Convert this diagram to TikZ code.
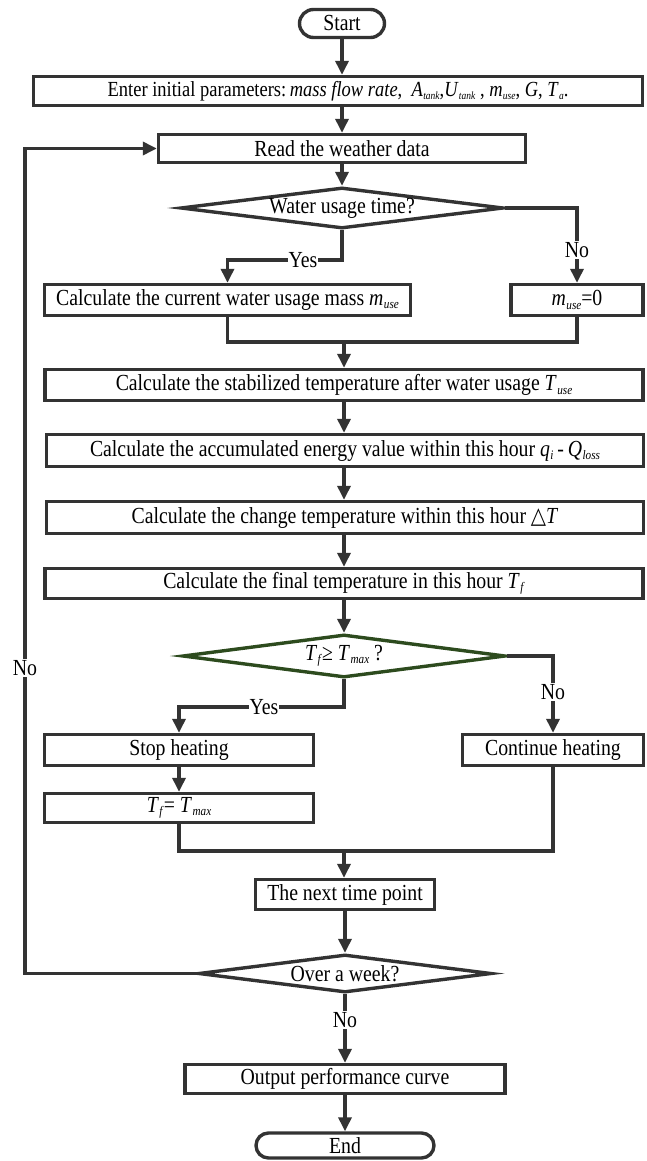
\documentclass[tikz,border=0pt]{standalone}
\usepackage{fontspec}
\setmainfont{Liberation Serif}[FakeStretch=0.86]
\newfontfamily\symfont{DejaVu Sans}[FakeStretch=0.86]
\usetikzlibrary{arrows.meta,shapes.geometric,shapes.misc}
\definecolor{ln}{HTML}{333333}
\definecolor{dgreen}{RGB}{45,75,30}
\newcommand{\vsub}[2]{\textit{#1}\kern0.5pt\raisebox{-3.5pt}{\fontsize{13}{14}\selectfont\textit{#2}}}
\newcommand{\vsubs}[2]{\textit{#1}\kern0.3pt\raisebox{-3pt}{\fontsize{11}{12}\selectfont\textit{#2}}}
\begin{document}
\begin{tikzpicture}[x=1pt,y=-1pt,
  every node/.style={font=\fontsize{23}{26}\selectfont, text=black},
  box/.style={draw=ln, line width=3.4pt, rectangle, inner sep=0pt},
  term/.style={draw=ln, line width=3.4pt, rounded rectangle, inner sep=0pt},
  dia/.style={draw=ln, line width=3.4pt, diamond, inner sep=0pt},
  line/.style={draw=ln, line width=3.4pt},
  arr/.style={line, -{Triangle[length=14pt,width=13pt]}},
  lbl/.style={fill=white, inner sep=1pt}
]
\useasboundingbox (0,0) rectangle (646,1161);
\coordinate (col) at (344,0);
\coordinate (lp) at (25,0);
% nodes
\node[term, minimum width=85pt, minimum height=28pt] (start) at (342,23.5) {Start};
\node[box, minimum width=609pt, minimum height=29pt, font=\fontsize{21.5}{24}\selectfont] (enter) at (338,91)
  {Enter initial parameters:\,\textit{mass flow rate},\ \ \vsubs{A}{tank},\vsubs{U}{tank} , \vsubs{m}{use}, \textit{G}, \vsubs{T}{a}.};
\node[box, minimum width=367pt, minimum height=28pt] (read) at (342,148.5) {Read the weather data};
\node[dia, minimum width=323pt, minimum height=41pt] (d1) at (342,208) {};
\node (d1t) at (d1) {Water usage time?};
\node[box, minimum width=366pt, minimum height=31pt] (cur) at (227.5,300) {Calculate the current water usage mass \vsub{m}{use}};
\node[box, minimum width=132pt, minimum height=31pt] (muse) at (577,300) {\vsub{m}{use}=0};
\node[box, minimum width=598pt, minimum height=31pt] (stab) at (344,385) {Calculate the stabilized temperature after water usage \vsub{T}{use}};
\node[box, minimum width=597pt, minimum height=32pt] (accu) at (345,450.5) {Calculate the accumulated energy value within this hour \vsub{q}{i}\,-\,\vsub{Q}{loss}};
\node[box, minimum width=597pt, minimum height=32pt] (chg) at (345,517.5) {Calculate the change temperature within this hour {\symfont △}\textit{T}};
\node[box, minimum width=598pt, minimum height=30pt] (fin) at (344,583.5) {Calculate the final temperature in this hour \vsub{T}{f}};
\node[dia, draw=dgreen, minimum width=323pt, minimum height=43pt] (d2) at (344,656) {};
\node (d2t) at (d2) {\vsub{T}{f}≥ \vsub{T}{max} ?};
\node[box, minimum width=269pt, minimum height=31pt] (stop) at (179,750) {Stop heating};
\node[box, minimum width=181pt, minimum height=31pt] (cont) at (553,750) {Continue heating};
\node[box, minimum width=269pt, minimum height=29pt] (tf) at (179,808) {\vsub{T}{f}= \vsub{T}{max}};
\node[box, minimum width=179pt, minimum height=30pt] (next) at (345,894.5) {The next time point};
\node[dia, minimum width=293pt, minimum height=38pt] (d3) at (345,973.5) {};
\node (d3t) at (d3) {Over a week?};
\node[box, minimum width=320pt, minimum height=29pt] (out) at (345,1079) {Output performance curve};
\node[term, minimum width=178pt, minimum height=25pt] (end) at (345,1145.5) {End};
% junction coordinates
\coordinate (j1) at (342,260);
\coordinate (m1) at (344,342);
\coordinate (j2) at (344,707);
\coordinate (m2) at (344,851);
% connectors
\draw[arr] (start.south) -- (start.south |- enter.north);
\draw[arr] (read.north |- enter.south) -- (read.north);
\draw[arr] (read.south) -- (d1.north);
\draw[arr] (d1.east) -| (muse.north);
\draw[arr] (d1.south) -- (j1) -| (cur.north);
\draw[line] (cur.south) -- (cur.south |- m1) -| (muse.south);
\draw[arr] (m1) -- (m1 |- stab.north);
\draw[arr] (col |- stab.south) -- (col |- accu.north);
\draw[arr] (col |- accu.south) -- (col |- chg.north);
\draw[arr] (col |- chg.south) -- (col |- fin.north);
\draw[arr] (d2.north |- fin.south) -- (d2.north);
\draw[arr] (d2.east) -| (cont.north);
\draw[arr] (d2.south) -- (j2) -| (stop.north);
\draw[arr] (stop.south) -- (tf.north);
\draw[line] (tf.south) -- (tf.south |- m2) -| (cont.south);
\draw[arr] (m2) -- (m2 |- next.north);
\draw[arr] (next.south) -- (d3.north);
\draw[arr] (d3.west) -- (lp |- d3.west) |- (read.west);
\draw[arr] (d3.south) -- (out.north);
\draw[arr] (out.south) -- (end.north);
% labels
\node[lbl] (no1) at (577,250) {No};
\node[lbl] (yes1) at (303,260) {Yes};
\node[lbl] (no2) at (553,692) {No};
\node[lbl] (yes2) at (264,707) {Yes};
\node[lbl] (no3) at (25,668) {No};
\node[lbl] (no4) at (345,1020) {No};
\end{tikzpicture}
\end{document}
